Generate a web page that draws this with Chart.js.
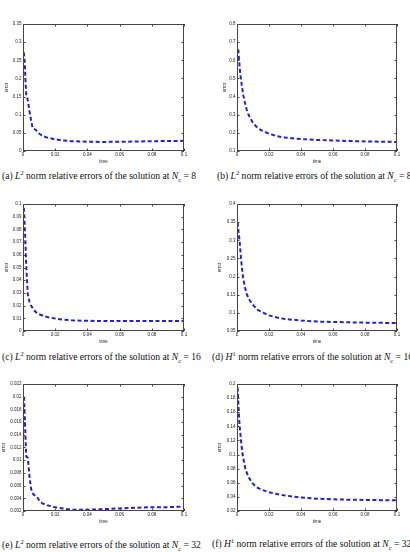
<!DOCTYPE html>
<html>
<head>
<meta charset="utf-8">
<script src="https://cdn.jsdelivr.net/npm/chart.js@4"></script>
<style>
  html, body { margin: 0; padding: 0; background: #fff; }
  body { width: 410px; height: 552px; position: relative; overflow: hidden; }
  canvas { position: absolute; }
  .cap {
    position: absolute; white-space: nowrap;
    font-family: "Liberation Serif", serif; font-size: 9.6px; color: #111;
    line-height: 11px;
  }
  .cap sup, .cap sub { font-size: 6.5px; line-height: 0; }
</style>
</head>
<body>
<canvas id="pa"></canvas>
<canvas id="pb"></canvas>
<canvas id="pc"></canvas>
<canvas id="pd"></canvas>
<canvas id="pe"></canvas>
<canvas id="pf"></canvas>

<div class="cap" style="left:2px; top:170px">(a) <i>L</i><sup>2</sup> norm relative errors of the solution at <i>N</i><sub>c</sub> = 8</div>
<div class="cap" style="left:217px; top:170px">(b) <i>L</i><sup>2</sup> norm relative errors of the solution at <i>N</i><sub>c</sub> = 8</div>
<div class="cap" style="left:2px; top:351px">(c) <i>L</i><sup>2</sup> norm relative errors of the solution at <i>N</i><sub>c</sub> = 16</div>
<div class="cap" style="left:212px; top:351px">(d) <i>H</i><sup>1</sup> norm relative errors of the solution at <i>N</i><sub>c</sub> = 16</div>
<div class="cap" style="left:2px; top:539px">(e) <i>L</i><sup>2</sup> norm relative errors of the solution at <i>N</i><sub>c</sub> = 32</div>
<div class="cap" style="left:212px; top:538px">(f) <i>H</i><sup>1</sup> norm relative errors of the solution at <i>N</i><sub>c</sub> = 32</div>

<script>
// x ticks shared by every panel
const xTicks = [0, 0.02, 0.04, 0.06, 0.08, 0.1];

// (a) L2, Nc = 8
const timeA = [0.0005, 0.001, 0.0015, 0.002, 0.003, 0.004, 0.005, 0.006, 0.008, 0.01, 0.012, 0.015, 0.02, 0.025, 0.03, 0.04, 0.05, 0.06, 0.07, 0.08, 0.09, 0.1];
const errA = [0.272, 0.25, 0.2, 0.155, 0.14, 0.11, 0.085, 0.063, 0.058, 0.048, 0.042, 0.037, 0.032, 0.029, 0.027, 0.0255, 0.025, 0.0255, 0.026, 0.027, 0.0275, 0.028];
const yTicksA = [0, 0.05, 0.1, 0.15, 0.2, 0.25, 0.3, 0.35];

// (b) L2, Nc = 8
const timeB = [0.0008, 0.001, 0.0015, 0.002, 0.003, 0.004, 0.005, 0.006, 0.007, 0.008, 0.01, 0.012, 0.015, 0.02, 0.025, 0.03, 0.04, 0.05, 0.06, 0.07, 0.08, 0.09, 0.1];
const errB = [0.66, 0.63, 0.58, 0.53, 0.46, 0.405, 0.365, 0.33, 0.305, 0.285, 0.255, 0.235, 0.215, 0.195, 0.182, 0.174, 0.166, 0.161, 0.158, 0.155, 0.153, 0.151, 0.15];
const yTicksB = [0.1, 0.2, 0.3, 0.4, 0.5, 0.6, 0.7, 0.8];

// (c) L2, Nc = 16
const timeC = [0.0005, 0.001, 0.0015, 0.002, 0.0025, 0.003, 0.004, 0.005, 0.0065, 0.008, 0.01, 0.0125, 0.015, 0.02, 0.025, 0.03, 0.04, 0.05, 0.06, 0.08, 0.1];
const errC = [0.097, 0.085, 0.07, 0.052, 0.04, 0.029, 0.023, 0.02, 0.017, 0.0148, 0.0132, 0.012, 0.011, 0.0098, 0.0089, 0.0084, 0.008, 0.0079, 0.0078, 0.0078, 0.0078];
const yTicksC = [0, 0.01, 0.02, 0.03, 0.04, 0.05, 0.06, 0.07, 0.08, 0.09, 0.1];

// (d) H1, Nc = 16
const timeD = [0.0004, 0.001, 0.0016, 0.0025, 0.0037, 0.005, 0.0062, 0.008, 0.0104, 0.013, 0.0166, 0.02, 0.025, 0.03, 0.04, 0.05, 0.06, 0.07, 0.08, 0.09, 0.1];
const errD = [0.349, 0.32, 0.3, 0.25, 0.2, 0.17, 0.15, 0.134, 0.12, 0.108, 0.1, 0.093, 0.087, 0.083, 0.079, 0.076, 0.075, 0.074, 0.073, 0.0725, 0.072];
const yTicksD = [0.05, 0.1, 0.15, 0.2, 0.25, 0.3, 0.35, 0.4];

// (e) L2, Nc = 32
const timeE = [0.0006, 0.001, 0.0015, 0.002, 0.003, 0.004, 0.005, 0.0065, 0.0085, 0.01, 0.012, 0.015, 0.02, 0.025, 0.03, 0.035, 0.04, 0.05, 0.06, 0.07, 0.08, 0.09, 0.1];
const errE = [0.02, 0.0175, 0.014, 0.0106, 0.0104, 0.0075, 0.0055, 0.0046, 0.0043, 0.0037, 0.0032, 0.0029, 0.0026, 0.0024, 0.0022, 0.0022, 0.0022, 0.0023, 0.0024, 0.0025, 0.0026, 0.0026, 0.0027];
const yTicksE = [0.002, 0.004, 0.006, 0.008, 0.01, 0.012, 0.014, 0.016, 0.018, 0.02, 0.022];

// (f) H1, Nc = 32
const timeF = [0.0004, 0.001, 0.0015, 0.0025, 0.0035, 0.0052, 0.007, 0.0094, 0.012, 0.0156, 0.02, 0.025, 0.03, 0.04, 0.05, 0.06, 0.07, 0.08, 0.09, 0.1];
const errF = [0.195, 0.165, 0.145, 0.12, 0.1, 0.08, 0.069, 0.06, 0.054, 0.05, 0.0466, 0.044, 0.042, 0.039, 0.0375, 0.0365, 0.036, 0.0357, 0.0354, 0.0352];
const yTicksF = [0.02, 0.04, 0.06, 0.08, 0.1, 0.12, 0.14, 0.16, 0.18, 0.2];

const tickFont = { family: 'Helvetica, "Liberation Sans", Arial, sans-serif', size: 4.5 };

// matlab-like box with inward ticks on all four sides
const framePlugin = {
    id: 'frame',
    afterDraw(chart) {
        const { ctx, chartArea: a, scales: { x, y } } = chart;
        ctx.save();
        ctx.strokeStyle = '#444';
        ctx.lineWidth = 1;
        ctx.strokeRect(a.left + 0.5, a.top + 0.5, a.width - 1, a.height - 1);
        ctx.beginPath();
        x.ticks.forEach(function (t) {
            const px = Math.round(x.getPixelForValue(t.value)) + 0.5;
            ctx.moveTo(px, a.bottom); ctx.lineTo(px, a.bottom - 2.5);
            ctx.moveTo(px, a.top); ctx.lineTo(px, a.top + 2.5);
        });
        y.ticks.forEach(function (t) {
            const py = Math.round(y.getPixelForValue(t.value)) + 0.5;
            ctx.moveTo(a.left, py); ctx.lineTo(a.left + 2.5, py);
            ctx.moveTo(a.right, py); ctx.lineTo(a.right - 2.5, py);
        });
        ctx.stroke();
        ctx.restore();
    }
};

function fmt(v) {
    return String(+Number(v).toFixed(4));
}

// box = [left, top, right, bottom] of the plot area on the page
function makePanel(id, cellX, box, gap, times, errs, yTicks) {
    const canvas = document.getElementById(id);
    const oy = box[1] - 16;
    const w = 205;
    const h = box[3] - box[1] + 32;
    canvas.width = w;
    canvas.height = h;
    canvas.style.left = cellX + 'px';
    canvas.style.top = oy + 'px';

    const yWidth = gap + 3;
    const padLeft = box[0] - cellX - yWidth;

    new Chart(canvas.getContext('2d'), {
        type: 'line',
        data: {
            datasets: [{
                data: times.map(function (t, i) { return { x: t, y: errs[i] }; }),
                borderColor: '#2222cc',
                borderWidth: 2,
                borderDash: [4, 2.5],
                pointRadius: 0,
                tension: 0,
                fill: false
            }]
        },
        options: {
            responsive: false,
            animation: false,
            devicePixelRatio: 1,
            layout: { padding: { left: padLeft, top: 16, right: cellX + w - box[2], bottom: 3 } },
            plugins: { legend: { display: false }, tooltip: { enabled: false } },
            scales: {
                x: {
                    type: 'linear',
                    min: 0,
                    max: 0.1,
                    grid: { display: false, drawTicks: false },
                    border: { display: false },
                    afterBuildTicks: function (s) { s.ticks = xTicks.map(function (v) { return { value: v }; }); },
                    afterFit: function (s) { s.height = 13; },
                    ticks: { font: tickFont, color: '#222', padding: 1.5, maxRotation: 0, autoSkip: false, callback: fmt },
                    title: { display: true, text: 'time', font: tickFont, color: '#222', padding: 0 }
                },
                y: {
                    type: 'linear',
                    min: yTicks[0],
                    max: yTicks[yTicks.length - 1],
                    grid: { display: false, drawTicks: false },
                    border: { display: false },
                    afterBuildTicks: function (s) { s.ticks = yTicks.map(function (v) { return { value: v }; }); },
                    afterFit: function (s) { s.width = yWidth; },
                    ticks: { font: tickFont, color: '#222', padding: 1.5, autoSkip: false, callback: fmt },
                    title: { display: true, text: 'error', font: tickFont, color: '#222', padding: 0 }
                }
            }
        },
        plugins: [framePlugin]
    });
}

makePanel('pa', 0, [23, 24, 184, 151], 16, timeA, errA, yTicksA);
makePanel('pb', 205, [237, 24, 397, 151], 11.5, timeB, errB, yTicksB);
makePanel('pc', 0, [23, 204, 184, 331], 16.3, timeC, errC, yTicksC);
makePanel('pd', 205, [237, 204, 397, 331], 17, timeD, errD, yTicksD);
makePanel('pe', 0, [23, 384, 184, 511], 19, timeE, errE, yTicksE);
makePanel('pf', 205, [237, 384, 397, 511], 17, timeF, errF, yTicksF);
</script>
</body>
</html>
